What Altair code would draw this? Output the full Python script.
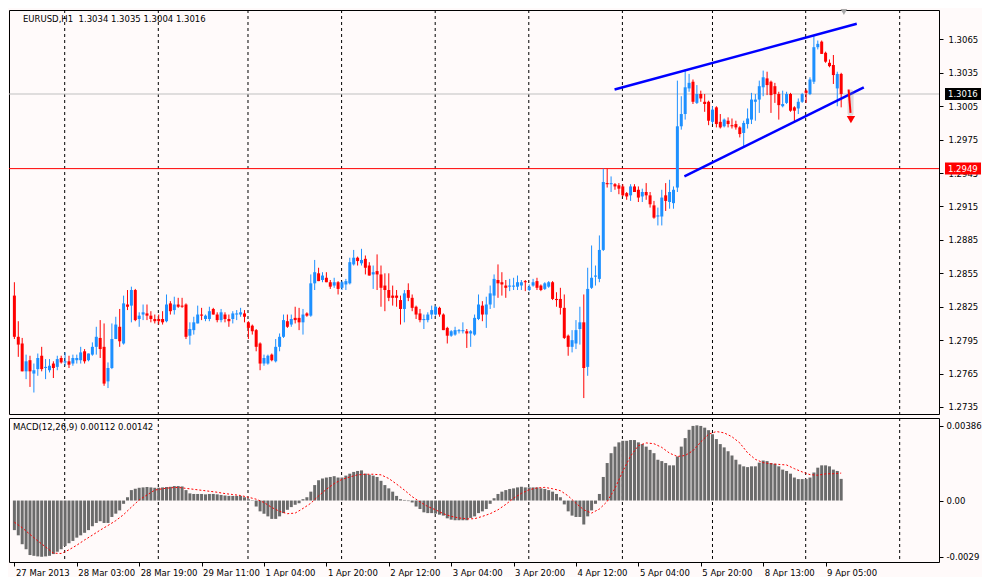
import altair as alt
import pandas as pd

# ---------------- data ----------------
open_ = [
    1.2835, 1.2798, 1.2792, 1.2767, 1.2777, 1.2765, 1.2769, 1.2781, 1.2770, 1.2768,
    1.2774, 1.2771, 1.2779, 1.2775, 1.2776, 1.2774, 1.2777, 1.2777, 1.2785, 1.2777,
    1.2782, 1.2789, 1.2797, 1.2789, 1.2758, 1.2770, 1.2796, 1.2807, 1.2792, 1.2827,
    1.2826, 1.2840, 1.2814, 1.2818, 1.2819, 1.2817, 1.2814, 1.2814, 1.2814, 1.2812,
    1.2828, 1.2822, 1.2827, 1.2826, 1.2827, 1.2799, 1.2804, 1.2810, 1.2818, 1.2814,
    1.2814, 1.2823, 1.2818, 1.2813, 1.2818, 1.2814, 1.2814, 1.2818, 1.2818, 1.2819,
    1.2811, 1.2808, 1.2804, 1.2792, 1.2774, 1.2774, 1.2782, 1.2776, 1.2789, 1.2798,
    1.2812, 1.2809, 1.2815, 1.2815, 1.2811, 1.2819, 1.2817, 1.2846, 1.2855, 1.2849,
    1.2851, 1.2847, 1.2844, 1.2847, 1.2842, 1.2845, 1.2846, 1.2863, 1.2869, 1.2864,
    1.2868, 1.2862, 1.2854, 1.2857, 1.2854, 1.2844, 1.2840, 1.2835, 1.2835, 1.2831,
    1.2823, 1.2840, 1.2833, 1.2825, 1.2819, 1.2813, 1.2813, 1.2818, 1.2818, 1.2824,
    1.2818, 1.2806, 1.2799, 1.2800, 1.2803, 1.2803, 1.2803, 1.2801, 1.2800, 1.2814,
    1.2826, 1.2818, 1.2827, 1.2835, 1.2849, 1.2847, 1.2844, 1.2843, 1.2843, 1.2843,
    1.2844, 1.2848, 1.2840, 1.2844, 1.2848, 1.2844, 1.2841, 1.2843, 1.2847, 1.2832,
    1.2832, 1.2824, 1.2799, 1.2789, 1.2792, 1.2805, 1.2811, 1.2771, 1.2842, 1.2852,
    1.2850, 1.2876, 1.2936, 1.2935, 1.2935, 1.2934, 1.2933, 1.2927, 1.2925, 1.2933,
    1.2930, 1.2924, 1.2928, 1.2925, 1.2916, 1.2906, 1.2906, 1.2925, 1.2919, 1.2918,
    1.2932, 1.2987, 1.2998, 1.3021, 1.3027, 1.3008, 1.3016, 1.3009, 1.3009, 1.2991,
    1.3004, 1.2991, 1.2987, 1.2992, 1.2988, 1.2989, 1.2986, 1.2981, 1.2989, 1.2993,
    1.3009, 1.3011, 1.3022, 1.3030, 1.3027, 1.3023, 1.3016, 1.3005, 1.3008, 1.3016,
    1.3004, 1.3003, 1.3009, 1.3019, 1.3016, 1.3027, 1.3058, 1.3063, 1.3053, 1.3044,
    1.3042, 1.3021, 1.3034,
]
high = [
    1.2847, 1.2812, 1.2797, 1.2782, 1.2781, 1.2774, 1.2783, 1.2789, 1.2778, 1.2778,
    1.2776, 1.2781, 1.2781, 1.2784, 1.2781, 1.2782, 1.2782, 1.2789, 1.2787, 1.2783,
    1.2793, 1.2807, 1.2813, 1.2810, 1.2775, 1.2810, 1.2816, 1.2823, 1.2835, 1.2840,
    1.2843, 1.2841, 1.2820, 1.2827, 1.2827, 1.2821, 1.2818, 1.2818, 1.2821, 1.2836,
    1.2830, 1.2834, 1.2833, 1.2833, 1.2828, 1.2811, 1.2816, 1.2826, 1.2824, 1.2818,
    1.2825, 1.2824, 1.2820, 1.2823, 1.2820, 1.2818, 1.2821, 1.2822, 1.2824, 1.2822,
    1.2812, 1.2809, 1.2805, 1.2793, 1.2782, 1.2782, 1.2783, 1.2796, 1.2801, 1.2818,
    1.2818, 1.2818, 1.2825, 1.2824, 1.2823, 1.2820, 1.2854, 1.2867, 1.2860, 1.2856,
    1.2856, 1.2849, 1.2851, 1.2848, 1.2848, 1.2850, 1.2869, 1.2876, 1.2870, 1.2877,
    1.2871, 1.2865, 1.2862, 1.2872, 1.2862, 1.2855, 1.2855, 1.2844, 1.2840, 1.2835,
    1.2840, 1.2846, 1.2836, 1.2826, 1.2823, 1.2818, 1.2820, 1.2826, 1.2826, 1.2825,
    1.2819, 1.2807, 1.2804, 1.2807, 1.2805, 1.2811, 1.2805, 1.2804, 1.2818, 1.2836,
    1.2830, 1.2834, 1.2844, 1.2854, 1.2863, 1.2856, 1.2849, 1.2850, 1.2851, 1.2853,
    1.2849, 1.2849, 1.2845, 1.2850, 1.2851, 1.2845, 1.2847, 1.2848, 1.2848, 1.2838,
    1.2842, 1.2836, 1.2800, 1.2804, 1.2813, 1.2825, 1.2836, 1.2860, 1.2880, 1.2862,
    1.2889, 1.2949, 1.2949, 1.2942, 1.2936, 1.2936, 1.2935, 1.2928, 1.2935, 1.2935,
    1.2933, 1.2931, 1.2936, 1.2928, 1.2920, 1.2914, 1.2930, 1.2936, 1.2939, 1.2933,
    1.3028, 1.3014, 1.3038, 1.3034, 1.3029, 1.3024, 1.3019, 1.3016, 1.3010, 1.3005,
    1.3005, 1.2998, 1.2994, 1.2995, 1.2994, 1.2992, 1.2987, 1.2992, 1.3003, 1.3017,
    1.3016, 1.3028, 1.3037, 1.3036, 1.3028, 1.3026, 1.3018, 1.3019, 1.3018, 1.3017,
    1.3005, 1.3012, 1.3017, 1.3020, 1.3031, 1.3068, 1.3064, 1.3064, 1.3054, 1.3047,
    1.3051, 1.3036, 1.3035,
]
low = [
    1.2796, 1.2780, 1.2767, 1.2760, 1.2753, 1.2748, 1.2763, 1.2767, 1.2760, 1.2766,
    1.2761, 1.2768, 1.2774, 1.2772, 1.2770, 1.2772, 1.2774, 1.2774, 1.2774, 1.2776,
    1.2781, 1.2782, 1.2779, 1.2754, 1.2752, 1.2769, 1.2796, 1.2789, 1.2791, 1.2822,
    1.2811, 1.2812, 1.2807, 1.2813, 1.2813, 1.2811, 1.2810, 1.2809, 1.2809, 1.2811,
    1.2818, 1.2818, 1.2824, 1.2824, 1.2796, 1.2791, 1.2800, 1.2810, 1.2813, 1.2812,
    1.2812, 1.2818, 1.2811, 1.2811, 1.2811, 1.2807, 1.2810, 1.2813, 1.2816, 1.2811,
    1.2796, 1.2800, 1.2785, 1.2768, 1.2772, 1.2773, 1.2776, 1.2775, 1.2785, 1.2797,
    1.2806, 1.2807, 1.2810, 1.2804, 1.2800, 1.2816, 1.2816, 1.2840, 1.2848, 1.2847,
    1.2847, 1.2841, 1.2842, 1.2836, 1.2840, 1.2840, 1.2845, 1.2862, 1.2862, 1.2862,
    1.2854, 1.2853, 1.2841, 1.2840, 1.2825, 1.2821, 1.2830, 1.2826, 1.2825, 1.2809,
    1.2811, 1.2830, 1.2821, 1.2814, 1.2811, 1.2805, 1.2811, 1.2814, 1.2817, 1.2816,
    1.2804, 1.2792, 1.2798, 1.2799, 1.2801, 1.2801, 1.2788, 1.2789, 1.2799, 1.2813,
    1.2812, 1.2806, 1.2823, 1.2824, 1.2833, 1.2835, 1.2833, 1.2839, 1.2840, 1.2840,
    1.2840, 1.2839, 1.2839, 1.2843, 1.2840, 1.2839, 1.2840, 1.2842, 1.2831, 1.2825,
    1.2818, 1.2796, 1.2781, 1.2784, 1.2787, 1.2791, 1.2743, 1.2763, 1.2841, 1.2844,
    1.2847, 1.2875, 1.2932, 1.2928, 1.2930, 1.2926, 1.2924, 1.2921, 1.2920, 1.2928,
    1.2919, 1.2919, 1.2921, 1.2914, 1.2904, 1.2898, 1.2898, 1.2911, 1.2913, 1.2913,
    1.2928, 1.2984, 1.2993, 1.3018, 1.3007, 1.3007, 1.3009, 1.3000, 1.2988, 1.2989,
    1.2986, 1.2985, 1.2986, 1.2986, 1.2985, 1.2984, 1.2977, 1.2968, 1.2985, 1.2989,
    1.2992, 1.2999, 1.3014, 1.3015, 1.2999, 1.3008, 1.2993, 1.3004, 1.3007, 1.3000,
    1.2990, 1.2998, 1.3008, 1.3008, 1.3015, 1.3025, 1.3056, 1.3052, 1.3044, 1.3040,
    1.3025, 1.3005, 1.3004,
]
close = [
    1.2798, 1.2791, 1.2767, 1.2776, 1.2767, 1.2768, 1.2779, 1.2769, 1.2771, 1.2772,
    1.2770, 1.2778, 1.2775, 1.2776, 1.2773, 1.2779, 1.2779, 1.2784, 1.2776, 1.2783,
    1.2789, 1.2798, 1.2787, 1.2756, 1.2770, 1.2796, 1.2809, 1.2794, 1.2828, 1.2825,
    1.2840, 1.2813, 1.2817, 1.2820, 1.2817, 1.2814, 1.2812, 1.2812, 1.2811, 1.2827,
    1.2821, 1.2827, 1.2825, 1.2825, 1.2798, 1.2805, 1.2811, 1.2818, 1.2817, 1.2817,
    1.2821, 1.2818, 1.2813, 1.2820, 1.2814, 1.2812, 1.2819, 1.2819, 1.2820, 1.2816,
    1.2806, 1.2803, 1.2789, 1.2774, 1.2779, 1.2781, 1.2777, 1.2789, 1.2798, 1.2813,
    1.2807, 1.2814, 1.2813, 1.2811, 1.2818, 1.2817, 1.2846, 1.2856, 1.2848, 1.2853,
    1.2847, 1.2843, 1.2847, 1.2841, 1.2847, 1.2848, 1.2865, 1.2869, 1.2866, 1.2867,
    1.2860, 1.2853, 1.2856, 1.2854, 1.2842, 1.2840, 1.2833, 1.2833, 1.2833, 1.2823,
    1.2837, 1.2833, 1.2824, 1.2818, 1.2813, 1.2814, 1.2818, 1.2822, 1.2825, 1.2818,
    1.2804, 1.2799, 1.2803, 1.2804, 1.2804, 1.2804, 1.2801, 1.2803, 1.2815, 1.2827,
    1.2818, 1.2827, 1.2837, 1.2850, 1.2846, 1.2845, 1.2842, 1.2844, 1.2844, 1.2847,
    1.2847, 1.2847, 1.2843, 1.2847, 1.2842, 1.2840, 1.2846, 1.2847, 1.2832, 1.2831,
    1.2824, 1.2797, 1.2789, 1.2795, 1.2804, 1.2811, 1.2770, 1.2841, 1.2851, 1.2853,
    1.2876, 1.2937, 1.2935, 1.2936, 1.2933, 1.2931, 1.2925, 1.2924, 1.2933, 1.2928,
    1.2923, 1.2928, 1.2925, 1.2917, 1.2905, 1.2907, 1.2923, 1.2920, 1.2928, 1.2930,
    1.2987, 1.2998, 1.3022, 1.3026, 1.3009, 1.3016, 1.3012, 1.3007, 1.2992, 1.3002,
    1.2989, 1.2986, 1.2993, 1.2989, 1.2987, 1.2986, 1.2980, 1.2990, 1.2994, 1.3011,
    1.3011, 1.3023, 1.3031, 1.3024, 1.3015, 1.3016, 1.3006, 1.3007, 1.3016, 1.3001,
    1.3001, 1.3009, 1.3016, 1.3017, 1.3029, 1.3058, 1.3061, 1.3052, 1.3045, 1.3041,
    1.3033, 1.3034, 1.3016,
]
macd_hist = [
    -0.00153, -0.00180, -0.00226, -0.00252, -0.00282, -0.00286, -0.00289, -0.00291, -0.00289, -0.00286,
    -0.00277, -0.00265, -0.00252, -0.00235, -0.00221, -0.00209, -0.00192, -0.00180, -0.00167, -0.00153,
    -0.00133, -0.00116, -0.00107, -0.00116, -0.00116, -0.00085, -0.00068, -0.00051, -0.00017, 0.00017,
    0.00054, 0.00061, 0.00066, 0.00068, 0.00070, 0.00068, 0.00066, 0.00066, 0.00068, 0.00070,
    0.00071, 0.00075, 0.00075, 0.00073, 0.00054, 0.00037, 0.00034, 0.00034, 0.00034, 0.00032,
    0.00034, 0.00034, 0.00032, 0.00029, 0.00026, 0.00024, 0.00024, 0.00024, 0.00024, 0.00017,
    0.00007, 0.00002, -0.00031, -0.00056, -0.00068, -0.00082, -0.00095, -0.00095, -0.00082, -0.00065,
    -0.00048, -0.00034, -0.00022, -0.00014, 0.00007, 0.00017, 0.00046, 0.00080, 0.00105, 0.00114,
    0.00119, 0.00122, 0.00126, 0.00119, 0.00119, 0.00129, 0.00139, 0.00148, 0.00153, 0.00156,
    0.00139, 0.00134, 0.00129, 0.00122, 0.00102, 0.00080, 0.00063, 0.00046, 0.00024, 0.00007,
    0.00003, -0.00003, -0.00010, -0.00031, -0.00044, -0.00061, -0.00065, -0.00065, -0.00068, -0.00073,
    -0.00078, -0.00092, -0.00099, -0.00102, -0.00102, -0.00102, -0.00102, -0.00090, -0.00082, -0.00065,
    -0.00056, -0.00044, -0.00017, 0.00012, 0.00034, 0.00046, 0.00054, 0.00060, 0.00063, 0.00068,
    0.00071, 0.00068, 0.00068, 0.00068, 0.00068, 0.00063, 0.00060, 0.00054, 0.00046, 0.00034,
    0.00017, -0.00020, -0.00056, -0.00078, -0.00085, -0.00085, -0.00124, -0.00082, -0.00051, -0.00017,
    0.00034, 0.00122, 0.00194, 0.00245, 0.00279, 0.00301, 0.00309, 0.00309, 0.00313, 0.00313,
    0.00301, 0.00292, 0.00279, 0.00262, 0.00245, 0.00211, 0.00204, 0.00194, 0.00182, 0.00182,
    0.00228, 0.00279, 0.00323, 0.00366, 0.00386, 0.00389, 0.00386, 0.00377, 0.00364, 0.00343,
    0.00318, 0.00292, 0.00275, 0.00255, 0.00233, 0.00211, 0.00187, 0.00177, 0.00173, 0.00177,
    0.00177, 0.00196, 0.00207, 0.00204, 0.00194, 0.00190, 0.00177, 0.00160, 0.00153, 0.00139,
    0.00119, 0.00111, 0.00111, 0.00111, 0.00119, 0.00145, 0.00170, 0.00182, 0.00182, 0.00177,
    0.00160, 0.00153, 0.00112,
]
signal_bar = list(range(0, 213, 2))
signal_val = [
    -0.00112, -0.00141, -0.00175, -0.00209, -0.00240, -0.00272, -0.00274, -0.00255, -0.00231, -0.00204,
    -0.00179, -0.00153, -0.00129, -0.00104, -0.00073, -0.00034, 0.00003, 0.00029, 0.00054, 0.00061,
    0.00066, 0.00068, 0.00063, 0.00058, 0.00053, 0.00048, 0.00043, 0.00036, 0.00031, 0.00026,
    0.00017, 0.00007, -0.00010, -0.00036, -0.00056, -0.00068, -0.00065, -0.00041, -0.00014, 0.00024,
    0.00058, 0.00088, 0.00109, 0.00122, 0.00133, 0.00136, 0.00136, 0.00133, 0.00114, 0.00085,
    0.00054, 0.00020, -0.00007, -0.00031, -0.00048, -0.00068, -0.00082, -0.00090, -0.00095, -0.00094,
    -0.00082, -0.00068, -0.00048, -0.00020, 0.00012, 0.00037, 0.00056, 0.00065, 0.00068, 0.00061,
    0.00051, 0.00024, -0.00014, -0.00048, -0.00065, -0.00044, -0.00005, 0.00063, 0.00151, 0.00230,
    0.00284, 0.00298, 0.00294, 0.00275, 0.00245, 0.00228, 0.00233, 0.00258, 0.00303, 0.00343,
    0.00357, 0.00350, 0.00330, 0.00298, 0.00247, 0.00213, 0.00196, 0.00190, 0.00187, 0.00184,
    0.00165, 0.00148, 0.00134, 0.00131, 0.00138, 0.00139, 0.00142,
]
price_ticks = [1.3065, 1.3035, 1.3005, 1.2975, 1.2945, 1.2915,
               1.2885, 1.2855, 1.2825, 1.2795, 1.2765, 1.2735]
macd_ticks = [0.00386, 0.0, -0.0029]
time_tick_bars = [0, 16, 32, 48, 64, 80, 96, 112, 128, 144, 160, 176, 192, 208]
time_labels = ["27 Mar 2013", "28 Mar 03:00", "28 Mar 19:00", "29 Mar 11:00",
               "1 Apr 04:00", "1 Apr 20:00", "2 Apr 12:00", "3 Apr 04:00",
               "3 Apr 20:00", "4 Apr 12:00", "5 Apr 04:00", "5 Apr 20:00",
               "8 Apr 13:00", "9 Apr 05:00"]
day_sep_bars = [12.9, 36.9, 59.9, 83.9, 107.9, 131.9, 155.9, 179.0, 202.9, 227.0]
support_level = 1.2949
last_price = 1.3016
chan_bar = [153.9, 216.0, 171.8, 217.8]
chan_price = [1.3020, 1.3079, 1.2942, 1.3022]
chan_id = ["upper", "upper", "lower", "lower"]
arrow_bar = [213.9, 214.4]
arrow_price = [1.3020, 1.2999]
arrow_head = (214.5, 1.2993)
title_main = "EURUSD,H1 \u00a01.3034 1.3035 1.3004 1.3016"
title_macd = "MACD(12,26,9) 0.00112 0.00142"

# ---------------- chart ----------------
W, H1, H2 = 930, 404, 144
FONT = "DejaVu Sans"
FS = 8.5
BLUE, RED = "#1e90ff", "#ff0000"

df = pd.DataFrame({"i": list(range(len(close))), "o": open_, "h": high,
                   "l": low, "c": close, "m": macd_hist})
df["dir"] = ["up" if c >= o else "down" for o, c in zip(open_, close)]

xs = alt.Scale(domain=[-0.1, 235.8], nice=False, zero=False)
ys = alt.Scale(domain=[1.27287, 1.30914], nice=False, zero=False)
ms = alt.Scale(domain=[-0.00318, 0.00427], nice=False, zero=False)
col = alt.Color("dir:N", scale=alt.Scale(domain=["up", "down"], range=[BLUE, RED]), legend=None)

common_ax = dict(domain=False, grid=False, labelFont=FONT, labelFontSize=FS,
                 labelColor="black", tickColor="black", tickSize=4, title=None)
AX_PRICE = alt.Axis(orient="right", values=price_ticks, format=".4f", labelPadding=5,
                    labelOverlap=False, **common_ax)
label_expr = "[" + ",".join("'" + s + "'" for s in time_labels) + "][round(datum.value/16)]"
AX_TIME = alt.Axis(orient="bottom", values=time_tick_bars, labelExpr=label_expr,
                   labelAlign="left", labelFlush=False, labelOverlap=False,
                   labelPadding=2, labelOffset=1, **common_ax)
AX_MACD = alt.Axis(orient="right", values=macd_ticks, labelPadding=3, labelOverlap=False,
                   labelExpr="datum.value > 0.003 ? '0.00386' : (datum.value < -0.002 ? '-0.0029' : '0.00')",
                   **common_ax)


def px(field):
    return alt.X(field, scale=xs, axis=None, title=None)


def py(field):
    return alt.Y(field, scale=ys, axis=AX_PRICE, title=None)


grid_df = pd.DataFrame({"g": day_sep_bars})
grid = alt.Chart(grid_df).mark_rule(color="black", strokeWidth=1, strokeDash=[3, 3]).encode(
    x=px("g:Q"))

lvl_df = pd.DataFrame({"p": [last_price]})
sup_df = pd.DataFrame({"p": [support_level]})
gray_line = alt.Chart(lvl_df).mark_rule(color="#c0c0c0", strokeWidth=1).encode(y=py("p:Q"))
red_line = alt.Chart(sup_df).mark_rule(color=RED, strokeWidth=1).encode(y=py("p:Q"))

wicks = alt.Chart(df).mark_rule(strokeWidth=1, clip=True).encode(
    x=px("i:Q"), y=py("l:Q"), y2="h:Q", color=col)
bodies = alt.Chart(df).mark_bar(size=3, clip=True).encode(
    x=px("i:Q"), y=py("o:Q"), y2="c:Q", color=col)

chan_df = pd.DataFrame({"b": chan_bar, "p": chan_price, "k": chan_id})
channel = alt.Chart(chan_df).mark_line(color="#0000ff", strokeWidth=2.5, clip=True).encode(
    x=px("b:Q"), y=py("p:Q"), detail="k:N")

arr_df = pd.DataFrame({"b": [arrow_bar[0]], "b2": [arrow_bar[1]],
                       "p": [arrow_price[0]], "p2": [arrow_price[1]]})
arrow_shadow = alt.Chart(arr_df).mark_rule(color="#808080", strokeWidth=6, opacity=0.25,
                                           strokeCap="round").encode(
    x=px("b:Q"), x2="b2:Q", y=py("p:Q"), y2="p2:Q",
    xOffset=alt.value(2), yOffset=alt.value(3))
arrow_shaft = alt.Chart(arr_df).mark_rule(color=RED, strokeWidth=2).encode(
    x=px("b:Q"), x2="b2:Q", y=py("p:Q"), y2="p2:Q")
head_df = pd.DataFrame({"b": [arrow_head[0]], "p": [arrow_head[1]]})
arrow_tip = alt.Chart(head_df).mark_point(shape="triangle-down", filled=True, color=RED,
                                          size=70, opacity=1).encode(x=px("b:Q"), y=py("p:Q"))

marker_df = pd.DataFrame({"b": [212.7]})
shift_marker = alt.Chart(marker_df).mark_point(shape="triangle-down", filled=True,
                                               color="#a8a8a8", size=45, opacity=1).encode(
    x=px("b:Q"), y=alt.value(2))

box_last = alt.Chart(lvl_df).mark_rect(width=36, height=12, color="black", clip=False).encode(
    x=alt.value(W + 24), y=py("p:Q"))
box_sup = alt.Chart(sup_df).mark_rect(width=36, height=12, color=RED, clip=False).encode(
    x=alt.value(W + 24), y=py("p:Q"))
tag_last = alt.Chart(lvl_df).mark_text(align="left", baseline="middle", color="white",
                                       font=FONT, fontSize=FS).encode(
    x=alt.value(W + 9), y=py("p:Q"), text=alt.Text("p:Q", format=".4f"))
tag_sup = alt.Chart(sup_df).mark_text(align="left", baseline="middle", color="white",
                                      font=FONT, fontSize=FS).encode(
    x=alt.value(W + 9), y=py("p:Q"), text=alt.Text("p:Q", format=".4f"))

t1_df = pd.DataFrame({"t": [title_main]})
title1 = alt.Chart(t1_df).mark_text(align="left", baseline="middle", font=FONT, fontSize=FS,
                                    color="black").encode(
    x=alt.value(14), y=alt.value(9), text="t:N")

main = alt.layer(grid, gray_line, red_line, wicks, bodies, channel, arrow_shadow,
                 arrow_shaft, arrow_tip, shift_marker, box_last, box_sup, tag_last,
                 tag_sup, title1).properties(width=W, height=H1)

# ---- MACD panel ----
def tx(field):
    return alt.X(field, scale=xs, axis=AX_TIME, title=None)


def my(field):
    return alt.Y(field, scale=ms, axis=AX_MACD, title=None)


grid2 = alt.Chart(grid_df).mark_rule(color="black", strokeWidth=1, strokeDash=[3, 3]).encode(
    x=tx("g:Q"))
hist = alt.Chart(df).mark_bar(size=3, color="#6b6b6b", clip=True).encode(
    x=tx("i:Q"), y=my("m:Q"), y2=alt.datum(0))
sig_df = pd.DataFrame({"b": signal_bar, "s": signal_val})
signal = alt.Chart(sig_df).mark_line(color=RED, strokeWidth=1, strokeDash=[2, 2]).encode(
    x=tx("b:Q"), y=my("s:Q"))
t2_df = pd.DataFrame({"t": [title_macd]})
title2 = alt.Chart(t2_df).mark_text(align="left", baseline="middle", font=FONT, fontSize=FS,
                                    color="black").encode(
    x=alt.value(4), y=alt.value(9), text="t:N")

macd = alt.layer(grid2, hist, signal, title2).properties(width=W, height=H2)

chart = alt.vconcat(main, macd, spacing=2).properties(
    padding=0, background="#fffafa"
).configure_view(stroke="black", strokeWidth=1, fill="#fffafa")

chart.save("out.html", embed_options={"renderer": "svg", "actions": False})
